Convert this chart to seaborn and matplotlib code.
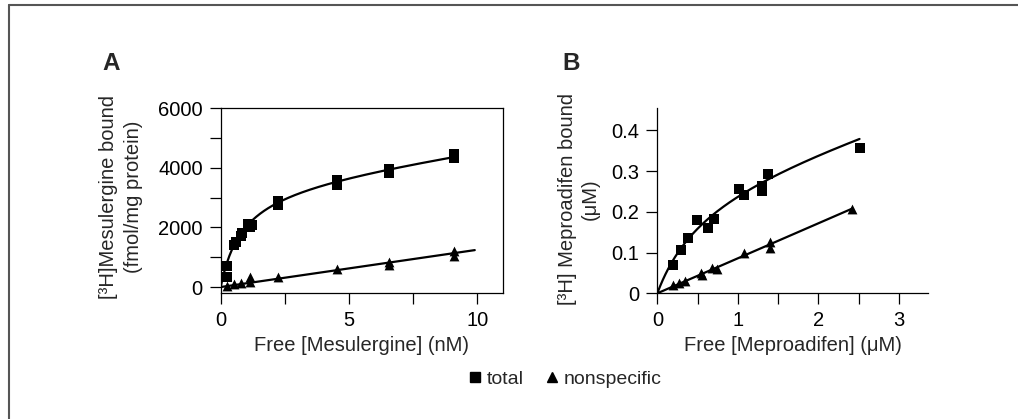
import numpy as np
import pandas as pd
import matplotlib
matplotlib.use("Agg")
import matplotlib.pyplot as plt
import matplotlib.ticker as mticker
from matplotlib.lines import Line2D
import seaborn as sns

sns.set_theme(style="white")
plt.rcParams['font.family'] = ['Liberation Sans', 'DejaVu Sans']

# ---------------- Panel A data (Mesulergine) ----------------
a_total_x = [0.25, 0.25, 0.53, 0.58, 0.79, 0.82, 1.08, 1.23, 1.15, 2.24, 2.24,
             4.55, 4.55, 6.56, 6.56, 9.08, 9.08]
a_total_y = [350, 700, 1410, 1500, 1720, 1800, 2110, 2080, 2000, 2750, 2880,
             3590, 3420, 3970, 3830, 4460, 4320]
a_ns_x = [0.25, 0.5, 0.78, 1.15, 1.15, 2.24, 4.55, 6.56, 6.56, 9.08, 9.08]
a_ns_y = [50, 100, 120, 320, 180, 345, 600, 850, 740, 1220, 1050]
# fitted model parameters
a_bmax, a_kd, a_ns_slope = 3520.0, 0.85, 125.0
a_total_fit_end, a_ns_fit_end = 9.2, 9.9

# ---------------- Panel B data (Meproadifen) ----------------
b_total_x = [0.20, 0.30, 0.38, 0.49, 0.63, 0.70, 1.01, 1.07, 1.30, 1.30, 1.37, 2.51]
b_total_y = [0.069, 0.107, 0.136, 0.180, 0.161, 0.182, 0.256, 0.241, 0.263, 0.252, 0.292, 0.357]
b_ns_x = [0.20, 0.27, 0.34, 0.54, 0.56, 0.68, 0.74, 1.07, 1.40, 1.40, 2.42]
b_ns_y = [0.021, 0.025, 0.029, 0.050, 0.044, 0.062, 0.060, 0.099, 0.126, 0.112, 0.208]
b_bmax, b_kd, b_tot_slope, b_ns_slope = 0.283, 0.6, 0.06, 0.086
b_total_fit_end, b_ns_fit_end = 2.51, 2.42

fig = plt.figure(figsize=(10.18, 4.19), dpi=100)
axA = fig.add_axes([0.2168, 0.3007, 0.2773, 0.4415])
axB = fig.add_axes([0.6457, 0.3000, 0.2659, 0.4422])

ms = 50
lw = 1.6
fs = 14.5
tfs = 14.5

# Panel A
xa = np.linspace(0, a_total_fit_end, 300)
fitA = pd.DataFrame({'x': xa, 'y': a_bmax * xa / (a_kd + xa) + a_ns_slope * xa})
xa2 = np.linspace(0, a_ns_fit_end, 50)
fitA2 = pd.DataFrame({'x': xa2, 'y': a_ns_slope * xa2})
sns.lineplot(data=fitA, x='x', y='y', ax=axA, color='black', lw=lw)
sns.lineplot(data=fitA2, x='x', y='y', ax=axA, color='black', lw=lw)
sns.scatterplot(x=a_total_x, y=a_total_y, ax=axA, marker='s', s=ms, color='black',
                edgecolor='black', linewidth=0, zorder=3)
sns.scatterplot(x=a_ns_x, y=a_ns_y, ax=axA, marker='^', s=ms, color='black',
                edgecolor='black', linewidth=0, zorder=3)
axA.set_xlim(0, 11)
axA.set_ylim(-200, 6000)
axA.xaxis.set_major_locator(mticker.FixedLocator([0, 5, 10]))
axA.xaxis.set_minor_locator(mticker.FixedLocator([2.5, 7.5]))
axA.yaxis.set_major_locator(mticker.FixedLocator([0, 2000, 4000, 6000]))
axA.yaxis.set_minor_locator(mticker.FixedLocator([1000, 3000, 5000]))
axA.set_xlabel('Free [Mesulergine] (nM)', fontsize=fs, labelpad=4)
axA.set_ylabel('[³H]Mesulergine bound\n(fmol/mg protein)', fontsize=fs, linespacing=1.4)
axA.yaxis.set_label_coords(-0.274, 0.5205)
for sp in axA.spines.values():
    sp.set_visible(True)
    sp.set_color('black')
    sp.set_linewidth(0.9)

# Panel B
xb = np.linspace(0, b_total_fit_end, 300)
fitB = pd.DataFrame({'x': xb, 'y': b_bmax * xb / (b_kd + xb) + b_tot_slope * xb})
xb2 = np.linspace(0, b_ns_fit_end, 50)
fitB2 = pd.DataFrame({'x': xb2, 'y': b_ns_slope * xb2})
sns.lineplot(data=fitB, x='x', y='y', ax=axB, color='black', lw=lw)
sns.lineplot(data=fitB2, x='x', y='y', ax=axB, color='black', lw=lw)
sns.scatterplot(x=b_total_x, y=b_total_y, ax=axB, marker='s', s=ms, color='black',
                edgecolor='black', linewidth=0, zorder=3)
sns.scatterplot(x=b_ns_x, y=b_ns_y, ax=axB, marker='^', s=ms, color='black',
                edgecolor='black', linewidth=0, zorder=3)
axB.set_xlim(0, 3.36)
axB.set_ylim(0, 0.455)
axB.xaxis.set_major_locator(mticker.FixedLocator([0, 1, 2, 3]))
axB.xaxis.set_minor_locator(mticker.FixedLocator([0.5, 1.5, 2.5]))
axB.yaxis.set_major_locator(mticker.FixedLocator([0, 0.1, 0.2, 0.3, 0.4]))
axB.yaxis.set_major_formatter(mticker.FuncFormatter(lambda v, p: '0' if v == 0 else f'{v:.1f}'))
axB.set_xlabel('Free [Meproadifen] (μM)', fontsize=fs, labelpad=4)
axB.set_ylabel('[³H] Meproadifen bound\n(μM)', fontsize=fs, linespacing=1.3)
axB.yaxis.set_label_coords(-0.2117, 0.508)
axB.spines['top'].set_visible(False)
axB.spines['right'].set_visible(False)
for s in ['left', 'bottom']:
    axB.spines[s].set_visible(True)
    axB.spines[s].set_color('black')
    axB.spines[s].set_linewidth(0.9)

for ax in (axA, axB):
    ax.set_facecolor('white')
    ax.grid(False)
    ax.tick_params(axis='both', which='both', direction='out', length=8, width=0.9,
                   color='black', labelsize=tfs, pad=5, bottom=True, left=True,
                   top=False, right=False)
    ax.tick_params(which='minor', labelbottom=False, labelleft=False)
    for t in ax.get_xticklabels() + ax.get_yticklabels():
        t.set_color('black')

fig.text(102 / 1018, 1 - 70 / 419, 'A', fontsize=17.5, fontweight='bold', ha='left', va='baseline')
fig.text(562 / 1018, 1 - 70 / 419, 'B', fontsize=17.5, fontweight='bold', ha='left', va='baseline')

handles = [Line2D([], [], marker='s', ls='none', color='black', markersize=6.5),
           Line2D([], [], marker='^', ls='none', color='black', markersize=7.5)]
fig.legend(handles, ['total', 'nonspecific'], loc='center', bbox_to_anchor=(564 / 1018, 1 - 379 / 419),
           ncol=2, frameon=False, fontsize=14, handletextpad=0.15, columnspacing=1.0,
           handlelength=0.9)

# figure frame (top and left edges visible)
fig.add_artist(Line2D([9 / 1018, 9 / 1018], [0, 1 - 5 / 419], transform=fig.transFigure,
                      color='#555555', lw=1.5))
fig.add_artist(Line2D([9 / 1018, 1], [1 - 5 / 419, 1 - 5 / 419], transform=fig.transFigure,
                      color='#555555', lw=1.5))

fig.savefig('out.png', dpi=100, facecolor='white')
